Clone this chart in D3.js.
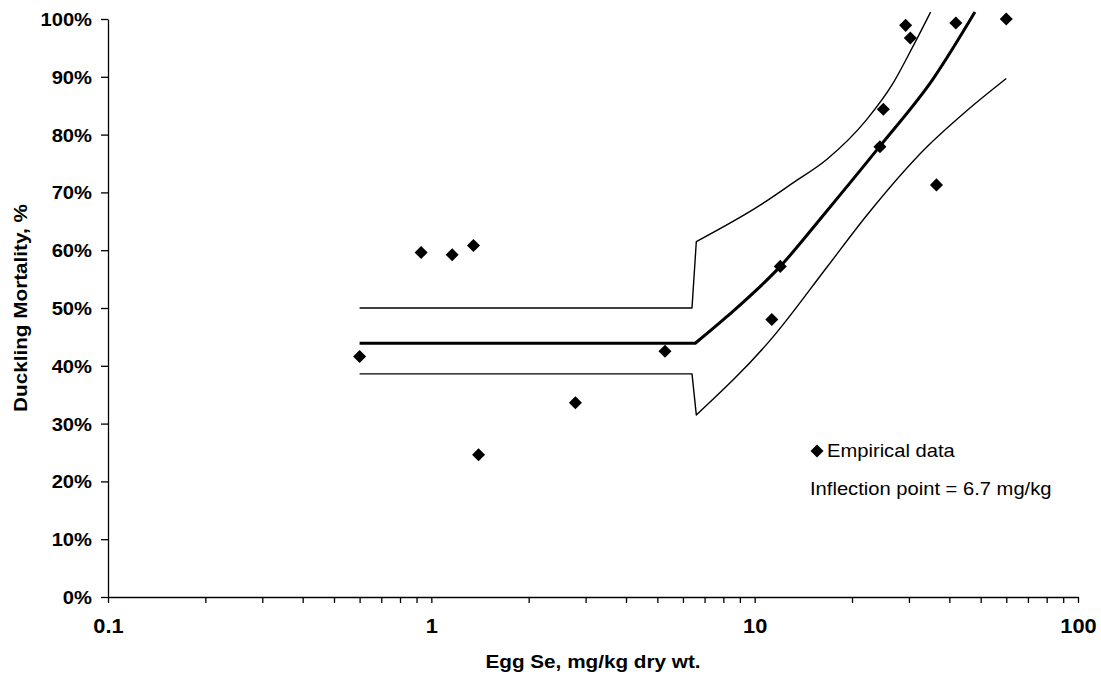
<!DOCTYPE html>
<html>
<head>
<meta charset="utf-8">
<script src="https://cdn.jsdelivr.net/npm/d3@7"></script>
<style>
  body { margin: 0; background: #fff; }
  text { font-family: "Liberation Sans", Arial, sans-serif; fill: #000; }
</style>
</head>
<body>
<svg id="chart" width="1101" height="676"></svg>
<script>
// Empirical data (egg Se mg/kg, mortality %)
let pointX = [0.6, 0.93, 1.16, 1.35, 1.4, 2.79, 5.28, 11.3, 12.0, 24.4, 25.0, 29.3, 30.3, 36.5, 41.9, 60.0];
let pointY = [41.6, 59.6, 59.2, 60.8, 24.6, 33.6, 42.5, 48.0, 57.2, 77.9, 84.4, 98.9, 96.7, 71.3, 99.3, 100.0];

// fitted hockey-stick curve and its bounds
let fitX = [0.6, 6.55, 8.2, 12, 16.5, 24.4, 35.6, 48];
let fitY = [43.9, 43.9, 48.5, 57.2, 66.4, 78.0, 89.6, 101.2];
let upperX = [0.6, 6.4, 6.6, 10.4, 13.1, 16.7, 22.2, 26.8, 30.9, 35.0];
let upperY = [50.0, 50.0, 61.5, 67.8, 71.6, 75.7, 82.6, 88.9, 95.3, 101.2];
let lowerX = [0.6, 6.4, 6.6, 11.4, 16.7, 22.2, 34.0, 45.0, 60.0];
let lowerY = [38.6, 38.6, 31.5, 45.0, 57.0, 66.0, 77.8, 84.0, 89.7];

let xMajorTicks = [0.1, 1, 10, 100];
let xTickLabels = ["0.1", "1", "10", "100"];
let yTicks = [0, 10, 20, 30, 40, 50, 60, 70, 80, 90, 100];

let legendLabel = "Empirical data";
let noteLabel = "Inflection point = 6.7 mg/kg";

const stretch = 1.12; // the original text is a bit wider than it is tall

function zip(xs, ys) {
  return xs.map((x, i) => ({ x: x, y: ys[i] }));
}

function draw() {
  let svg = d3.select("#chart");
  let margin = { top: 19, right: 23, bottom: 79, left: 108 };
  let width = +svg.attr("width") - margin.left - margin.right;
  let height = +svg.attr("height") - margin.top - margin.bottom;

  let g = svg.append("g")
    .attr("transform", "translate(" + margin.left + "," + margin.top + ")");

  let x = d3.scaleLog().domain([0.1, 100]).range([0, width]);
  let y = d3.scaleLinear().domain([0, 100]).range([height, 0]);

  // y axis
  let yAxis = g.append("g")
    .call(d3.axisLeft(y)
      .tickValues(yTicks)
      .tickSize(7)
      .tickSizeOuter(0)
      .tickFormat((d) => d + "%"));
  yAxis.selectAll("text")
    .attr("x", -16 / stretch)
    .attr("dy", "0.36em")
    .attr("transform", "scale(" + stretch + ",1)")
    .style("font-size", "18px")
    .style("font-weight", "bold");

  // x axis, log with minor ticks
  let xAxis = g.append("g")
    .attr("transform", "translate(0," + height + ")")
    .call(d3.axisBottom(x)
      .tickValues(x.ticks())
      .tickSize(6)
      .tickSizeOuter(0)
      .tickFormat((d) => {
        let i = xMajorTicks.indexOf(+d.toPrecision(3));
        return i >= 0 ? xTickLabels[i] : "";
      }));
  xAxis.selectAll("text")
    .attr("y", 22)
    .attr("dy", "0.72em")
    .attr("transform", "scale(" + stretch + ",1)")
    .attr("x", 0)
    .style("font-size", "19.5px")
    .style("font-weight", "bold");

  svg.selectAll(".domain, .tick line")
    .attr("stroke", "#000")
    .attr("stroke-width", 1.3);

  let flatLine = d3.line()
    .x((d) => x(d.x))
    .y((d) => y(d.y));
  let smoothLine = d3.line()
    .curve(d3.curveMonotoneX)
    .x((d) => x(d.x))
    .y((d) => y(d.y));

  // flat part + jump drawn straight, the rising part smooth
  function drawSeries(data, split, strokeWidth) {
    let p = flatLine(data.filter((d) => d.x <= split)) +
      smoothLine(data.filter((d) => d.x >= split)).replace(/^M/, "L");
    g.append("path")
      .attr("fill", "none")
      .attr("stroke", "#000")
      .attr("stroke-width", strokeWidth)
      .attr("stroke-linejoin", "round")
      .attr("d", p);
  }

  drawSeries(zip(upperX, upperY), 6.6, 1.4);
  drawSeries(zip(lowerX, lowerY), 6.6, 1.4);
  drawSeries(zip(fitX, fitY), 6.55, 3);

  // diamonds
  let diamond = d3.symbol().type(d3.symbolSquare).size(85);
  g.selectAll(".pt")
    .data(zip(pointX, pointY))
    .enter()
    .append("path")
    .attr("class", "pt")
    .attr("d", diamond)
    .attr("fill", "#000")
    .attr("transform", (d) => "translate(" + x(d.x) + "," + y(d.y) + ") rotate(45)");

  // legend
  svg.append("path")
    .attr("d", diamond)
    .attr("fill", "#000")
    .attr("transform", "translate(817,451) rotate(45)");
  svg.append("text")
    .attr("transform", "translate(827,457) scale(" + stretch + ",1)")
    .style("font-size", "18px")
    .text(legendLabel);
  svg.append("text")
    .attr("transform", "translate(810,495) scale(" + stretch + ",1)")
    .style("font-size", "18px")
    .text(noteLabel);

  // axis titles
  svg.append("text")
    .attr("transform", "translate(" + (margin.left + width / 2) + ",668) scale(" + stretch + ",1)")
    .style("text-anchor", "middle")
    .style("font-size", "18.5px")
    .style("font-weight", "bold")
    .text("Egg Se, mg/kg dry wt.");

  svg.append("text")
    .attr("transform", "translate(27," + (margin.top + height / 2) + ") rotate(-90) scale(" + stretch + ",1)")
    .style("text-anchor", "middle")
    .style("font-size", "18.5px")
    .style("font-weight", "bold")
    .text("Duckling Mortality, %");
}

draw();
</script>
</body>
</html>
